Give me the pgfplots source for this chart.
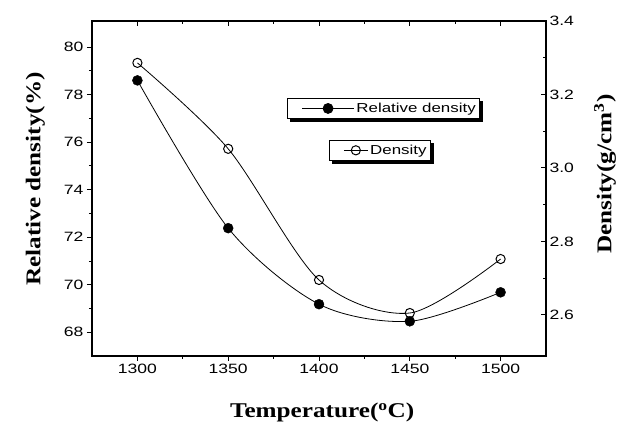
\documentclass[border=0pt]{standalone}
\usepackage{pgfplots}
\pgfplotsset{compat=1.18}
\usepackage{fontspec}
\setmainfont{Liberation Sans}[FakeStretch=1.3]
\newfontfamily\lab{Liberation Serif}[FakeStretch=1.2]

\pgfplotstableread{
T rd
1300 78.6
1350 72.38
1400 69.18
1450 68.46
1500 69.68
}\reldens
\pgfplotstableread{
T d
1300 3.286
1350 3.052
1400 2.695
1450 2.605
1500 2.752
}\dens

\pgfplotsset{
  common/.style={
    scale only axis, width=454pt, height=335pt,
    xmin=1275, xmax=1525,
    xtick={1300,1350,1400,1450,1500},
    minor x tick num=1, minor y tick num=1,
    major tick length=5pt, minor tick length=3pt,
    axis line style={line width=1.1pt},
    every tick/.style={line width=0.9pt, black},
    ticklabel style={font=\fontsize{13.5}{15}\selectfont},
    /pgf/number format/assume math mode=true,
    /pgf/number format/1000 sep={},
    label style={font=\fontsize{21}{24}\selectfont\lab\bfseries},
    legend style={draw=black, line width=0.9pt, fill=white,
      font=\fontsize{13}{15}\selectfont, inner xsep=2pt, inner ysep=2.5pt,
      anchor=north west, cells={anchor=west}},
  },
  leftscale/.style={common, ymin=67, ymax=81.1},
  rightscale/.style={common, ymin=2.488, ymax=3.4},
}

\begin{document}
\begin{tikzpicture}
% left axis: relative density line
\begin{axis}[leftscale,
  ytick={68,70,72,74,76,78,80},
  xtick pos=bottom, ytick pos=left, tick align=outside,
  xlabel={Temperature(\textsuperscript{o}C)},
  ylabel={Relative density(\%)},
  xlabel style={at={(axis description cs:0.507,-0.17)}, anchor=center},
  ylabel style={at={(axis description cs:-0.125,0.528)}, anchor=center},
  legend style={name=legA, at={(axis description cs:0.43,0.77)},
    legend image code/.code={\path (0pt,0pt); \draw[mark repeat=2,mark phase=2] plot coordinates {(12pt,0pt) (38pt,0pt) (64pt,0pt)};}},
]
\addplot[black, line width=0.8pt, smooth, no marks, forget plot] table[x=T,y=rd] {\reldens};
\addlegendimage{black, line width=0.8pt, mark=*, mark size=5pt, mark options={fill=black}}
\addlegendentry{Relative density}
\end{axis}
% right axis: density line and points
\begin{axis}[rightscale,
  ytick={2.6,2.8,3.0,3.2,3.4},
  xticklabels={},
  xtick pos=top, ytick pos=right, yticklabel pos=right, tick align=inside,
  yticklabel style={/pgf/number format/.cd, fixed, fixed zerofill, precision=1},
  ylabel={Density(g/cm\textsuperscript{3})},
  ylabel style={at={(axis description cs:1.13,0.543)}, anchor=center},
  legend style={name=legB, at={(axis description cs:0.522,0.645)},
    legend image code/.code={\path (0pt,0pt); \draw[mark repeat=2,mark phase=2] plot coordinates {(12pt,0pt) (24pt,0pt) (36pt,0pt)};}},
]
\addplot[black, line width=0.8pt, smooth, no marks, forget plot] table[x=T,y=d] {\dens};
\addplot[only marks, mark=o, mark size=4.6pt, mark options={draw=black, fill=white, line width=1pt}, forget plot] table[x=T,y=d] {\dens};
\addlegendimage{black, line width=0.8pt, mark=o, mark size=4.6pt, mark options={fill=white, line width=1pt}}
\addlegendentry{Density}
\end{axis}
% relative density points on top
\begin{axis}[leftscale, hide axis]
\addplot[only marks, mark=*, mark size=5pt, mark options={fill=black, draw=black}] table[x=T,y=rd] {\reldens};
\end{axis}
% legend shadows (right and bottom strips)
\foreach \L in {legA,legB}{
  \fill[black] ([shift={(3pt,-3pt)}]\L.south west) rectangle ([shift={(3pt,0pt)}]\L.south east);
  \fill[black] ([shift={(0pt,-3pt)}]\L.north east) rectangle ([shift={(3pt,-3pt)}]\L.south east);
}
\pgfresetboundingbox
\path[use as bounding box] (-92pt,-71pt) rectangle (536pt,356pt);
\end{tikzpicture}
\end{document}
